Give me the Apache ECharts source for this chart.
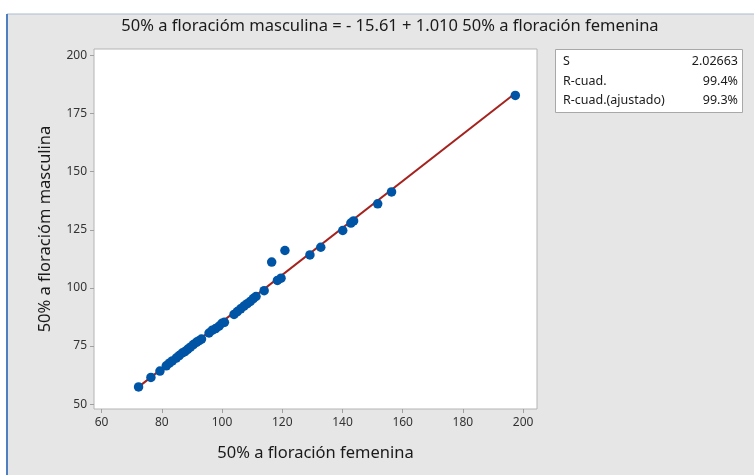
<!DOCTYPE html>
<html>
<head>
<meta charset="utf-8">
<script src="https://cdn.jsdelivr.net/npm/echarts@6/dist/echarts.min.js"></script>
<style>
html,body{margin:0;padding:0;background:#fff;}
#c{width:754px;height:475px;}
</style>
</head>
<body>
<div id="c"></div>
<script>
const titleText = '50% a floracióm masculina = - 15.61 + 1.010 50% a floración femenina';
const xName = '50% a floración femenina';
const yName = '50% a floracióm masculina';
const xTicks = [60, 80, 100, 120, 140, 160, 180, 200];
const yTicks = [50, 75, 100, 125, 150, 175, 200];
const femenina = [72.3, 76.4, 79.4, 81.5, 82.5, 83.5, 84.8, 85.8, 86.8, 87.7, 88.6, 89.5, 90.5, 91.5, 92.4, 93.2, 95.7, 96.8, 97.9, 99.0, 100.0, 100.8, 104.0, 105.1, 106.2, 107.3, 108.4, 109.4, 110.4, 111.3, 114.0, 116.5, 118.4, 119.6, 120.9, 129.2, 132.8, 140.1, 142.8, 143.7, 151.7, 156.3, 197.4];
const masculina = [57.4, 61.5, 64.2, 66.5, 67.6, 68.6, 69.8, 70.9, 72.0, 72.6, 73.6, 74.5, 75.6, 76.6, 77.3, 78.0, 80.6, 81.8, 82.5, 83.5, 84.8, 85.2, 88.6, 89.8, 91.0, 92.2, 93.2, 94.2, 95.4, 96.3, 98.8, 111.1, 103.2, 104.2, 116.1, 114.2, 117.5, 124.7, 127.9, 128.8, 136.2, 141.3, 182.8];
const intercept = -15.61;
const slope = 1.010;
const statLabels = ['S', 'R-cuad.', 'R-cuad.(ajustado)'];
const statValues = ['2.02663', '99.4%', '99.3%'];

const pts = femenina.map((x, i) => [x, masculina[i]]);
const xMin = Math.min(...femenina), xMax = Math.max(...femenina);
const fitLine = [[xMin, intercept + slope * xMin], [xMax, intercept + slope * xMax]];

const FONT = '"Noto Sans", "Open Sans", sans-serif';
const chart = echarts.init(document.getElementById('c'), null, {renderer: 'canvas'});

const statGraphics = [];
statLabels.forEach((t, i) => {
  statGraphics.push({type: 'text', left: 563, top: 55 + i * 19.5, style: {text: t, font: '12.5px ' + FONT, fill: '#1a1a1a'}});
  statGraphics.push({type: 'text', right: 16, top: 55 + i * 19.5, style: {text: statValues[i], font: '12.5px ' + FONT, fill: '#1a1a1a', textAlign: 'right'}});
});

chart.setOption({
  backgroundColor: '#ffffff',
  animation: false,
  graphic: [
    {type: 'rect', z: -10, shape: {x: 7, y: 14, width: 760, height: 470}, style: {fill: '#E6E6E6', stroke: '#A9BCD3', lineWidth: 1}},
    {type: 'line', z: -9, shape: {x1: 7, y1: 14, x2: 7, y2: 475}, style: {stroke: '#4F7FC0', lineWidth: 2}},
    {type: 'rect', shape: {x: 555.5, y: 49.5, width: 187, height: 63}, style: {fill: '#ffffff', stroke: '#A8A8A8', lineWidth: 1}},
    ...statGraphics
  ],
  title: {
    text: titleText,
    left: 385, top: 13, textAlign: 'center',
    textStyle: {fontFamily: FONT, fontSize: 16.5, fontWeight: 'normal', color: '#1a1a1a'}
  },
  grid: {left: 94, top: 49, right: 217, bottom: 66, show: true, backgroundColor: '#ffffff', borderColor: '#B4B4B4', borderWidth: 1},
  xAxis: {
    type: 'value', min: 57.5, max: 204.6,
    name: xName, nameLocation: 'middle', nameGap: 36,
    nameTextStyle: {fontFamily: FONT, fontSize: 16.5, color: '#1a1a1a'},
    splitLine: {show: false},
    axisLine: {show: false},
    axisTick: {show: true, length: 4, lineStyle: {color: '#A0A0A0'}, customValues: xTicks},
    axisLabel: {fontFamily: FONT, fontSize: 12, color: '#333', margin: 8, customValues: xTicks}
  },
  yAxis: {
    type: 'value', min: 47.9, max: 202.8,
    name: yName, nameLocation: 'middle', nameGap: 40, nameRotate: 90,
    nameTextStyle: {fontFamily: FONT, fontSize: 16.5, color: '#1a1a1a'},
    splitLine: {show: false},
    axisLine: {show: false},
    axisTick: {show: true, length: 4, lineStyle: {color: '#A0A0A0'}, customValues: yTicks},
    axisLabel: {fontFamily: FONT, fontSize: 12, color: '#333', margin: 7, customValues: yTicks}
  },
  series: [
    {type: 'line', data: fitLine, showSymbol: false, symbol: 'none', lineStyle: {color: '#A4231F', width: 2}, z: 2},
    {type: 'scatter', data: pts, symbolSize: 9.5, itemStyle: {color: '#0054A6', opacity: 1}, z: 3}
  ]
});
</script>
</body>
</html>
